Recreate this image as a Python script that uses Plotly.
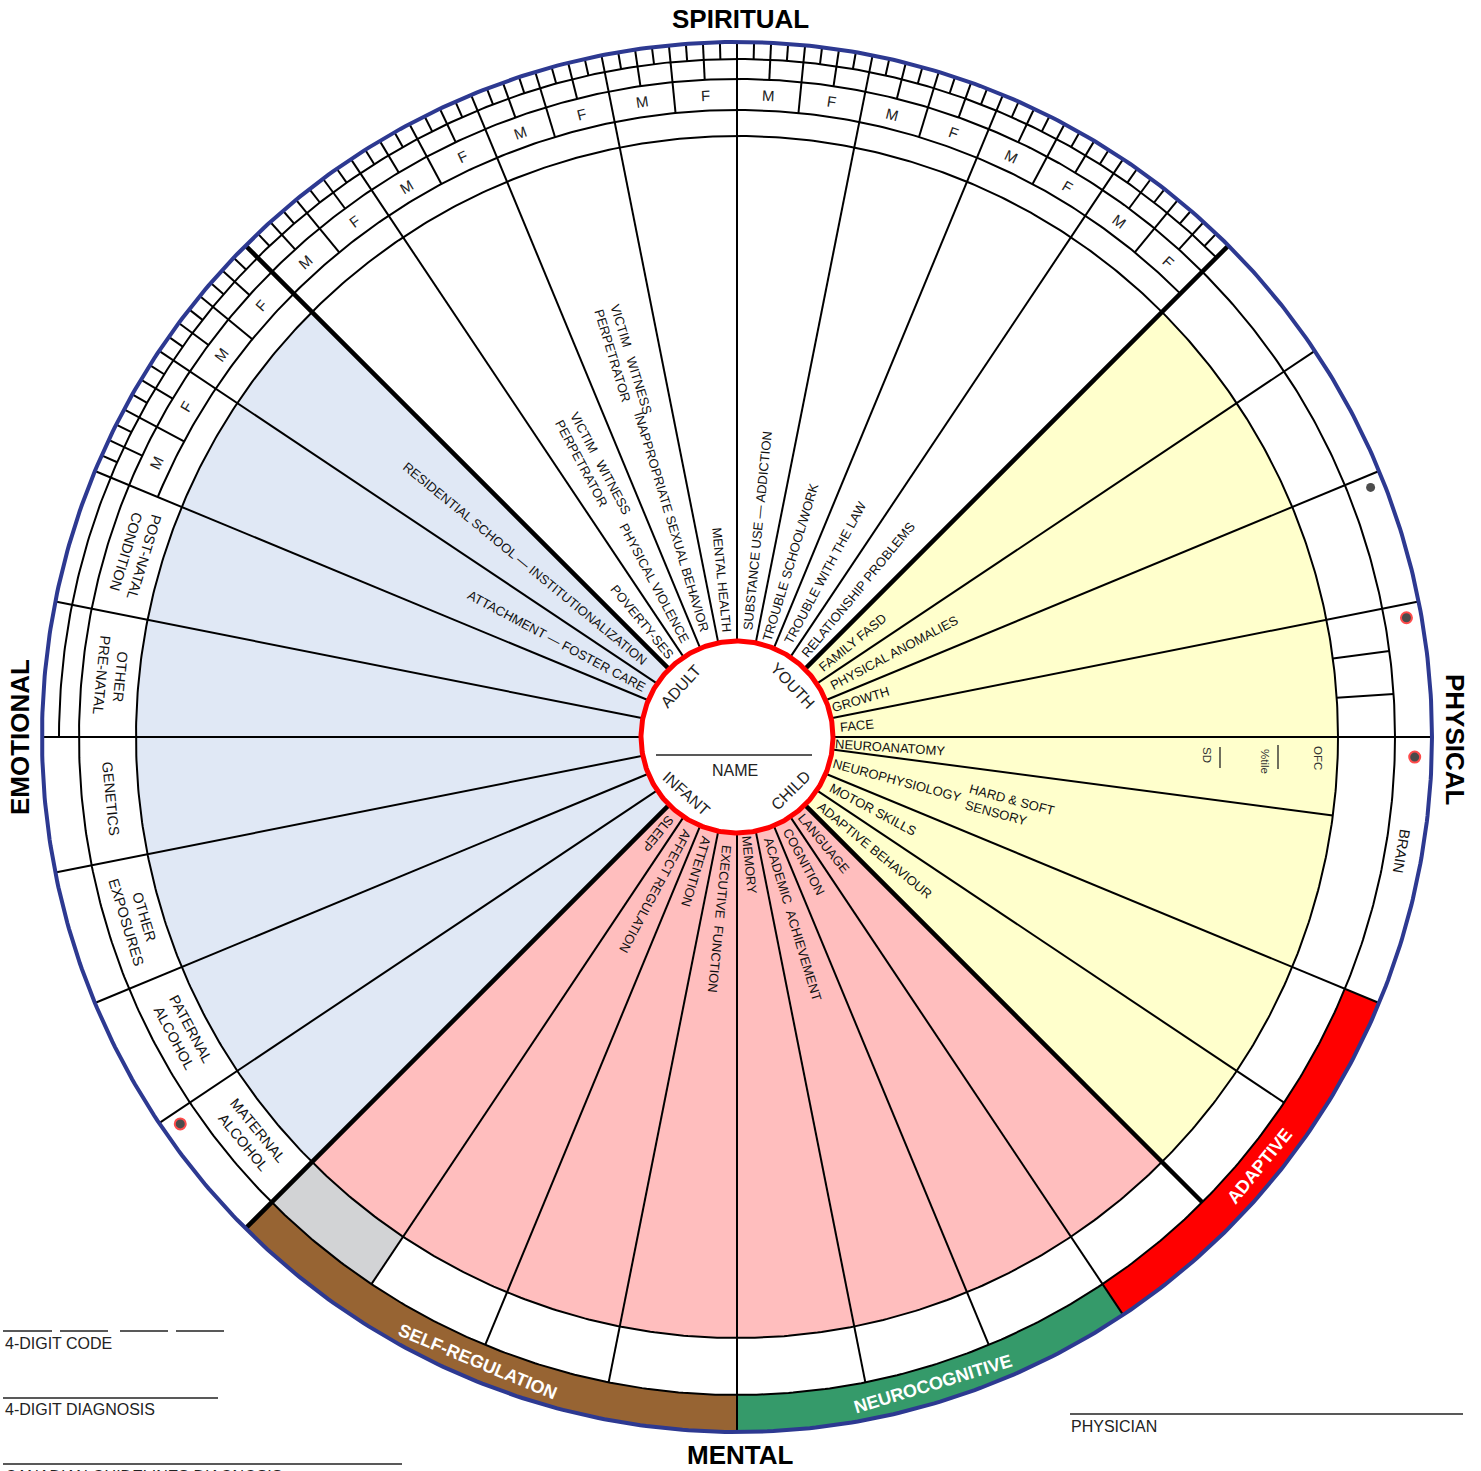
import numpy as np
import plotly.graph_objects as go

# ---------------- chart content (data) ----------------
quadrant_titles = ["SPIRITUAL", "PHYSICAL", "MENTAL", "EMOTIONAL"]
quadrant_title_angles = [90, 0, 270, 180]

inner_labels = [
    "RELATIONSHIP PROBLEMS", "TROUBLE WITH THE LAW", "TROUBLE SCHOOL/WORK",
    "SUBSTANCE USE — ADDICTION", "MENTAL HEALTH", "INAPPROPRIATE SEXUAL BEHAVIOR",
    "PHYSICAL VIOLENCE", "POVERTY-SES",
    "RESIDENTIAL SCHOOL — INSTITUTIONALIZATION", "ATTACHMENT — FOSTER CARE",
    "SLEEP", "AFFECT REGULATION", "ATTENTION", "EXECUTIVE\u00a0\u00a0FUNCTION",
    "MEMORY", "ACADEMIC\u00a0\u00a0ACHIEVEMENT", "COGNITION", "LANGUAGE",
    "ADAPTIVE BEHAVIOUR", "MOTOR SKILLS", "NEUROPHYSIOLOGY", "NEUROANATOMY",
    "FACE", "GROWTH", "PHYSICAL ANOMALIES", "FAMILY FASD",
]
inner_angles = [
    50.625, 61.875, 73.125, 84.375, 95.625, 106.875, 118.125, 129.375,
    140.625, 151.875,
    230.625, 241.875, 253.125, 264.375, 275.625, 286.875, 298.125, 309.375,
    320.625, 331.875, 345.0, 356.25,
    5.625, 16.875, 28.125, 39.375,
]
inner_reading = ["out"] * 4 + ["in"] * 6 + ["out"] * 16

role_labels = ["VICTIM\u00a0\u00a0\u00a0WITNESS<br>PERPETRATOR", "VICTIM\u00a0\u00a0\u00a0WITNESS<br>PERPETRATOR",
               "HARD & SOFT<br>SENSORY"]
role_angles = [106.875, 118.125, -14.6]

band_cell_labels = ["POST-NATAL<br>CONDITION", "OTHER<br>PRE-NATAL", "GENETICS",
                    "OTHER<br>EXPOSURES", "PATERNAL<br>ALCOHOL", "MATERNAL<br>ALCOHOL", "BRAIN"]
band_cell_angles = [163.125, 174.375, 185.625, 196.875, 208.125, 219.375, -9.75]

domain_labels = ["SELF-REGULATION", "NEUROCOGNITIVE", "ADAPTIVE"]
domain_start = [225.0, 270.0, 303.75]
domain_end = [270.0, 303.75, 337.5]

life_stages = ["ADULT", "YOUTH", "INFANT", "CHILD"]
life_stage_angles = [138, 43, 228, 315]

sex_labels = ["M", "F"]
ruler_start, ruler_end = 45.0, 157.5

spoke_angles = [45, 56.25, 67.5, 78.75, 90, 101.25, 112.5, 123.75, 135, 146.25, 157.5,
                168.75, 180, 191.25, 202.5, 213.75, 225, 236.25, 247.5, 258.75, 270,
                281.25, 292.5, 303.75, 315, 326.25, 337.5, 352.5, 0, 11.25, 22.5, 33.75]
spoke_reach = ["rim"] * 17 + ["band", "band", "band", "rim", "band", "band", "rim",
                              "band", "band", "rim", "wedge", "rim", "rim", "rim", "rim"]
thick_spokes = [45, 135, 225, 315]
face_cell_dividers = [3.75, 7.5]

ofc_labels = ["OFC", "%tile", "SD"]

dot_radius = [681, 680, 678, 678]
dot_angle = [21.5, 10.1, -1.7, 214.8]
dot_flagged = [False, True, True, True]

footer_fields = ["4-DIGIT CODE", "4-DIGIT DIAGNOSIS", "CANADIAN GUIDELINES DIAGNOSIS", "PHYSICIAN"]

# ---------------- geometry / style ----------------
W, H = 1481, 1471
CX, CY = 737.0, 737.0
R_HUB, R_WEDGE, R_MF, R_BAND, R_TICK, R_RIM = 96, 601, 627, 658, 678, 695

BLUE_FILL = "#E0E8F5"
PINK_FILL = "#FFBEBE"
YELLOW_FILL = "#FFFFCC"
GRAY_FILL = "#D2D3D5"
DOMAIN_COLORS = ["#976433", "#359A6A", "#FF0000"]
RIM_COLOR = "#2D3991"
NARROW = "Liberation Sans Narrow, Arial Narrow, Liberation Sans, Arial, sans-serif"
SANS = "Liberation Sans, Arial, Helvetica, sans-serif"
LABEL_SIZE = 13


def P(r, a):
    t = np.radians(a)
    return r * np.cos(t), r * np.sin(t)


def S(sx, sy):  # screen pixel -> plot coordinates
    return sx - CX, CY - sy


def annulus(r0, r1, a0, a1):
    n = int(abs(a1 - a0) / 0.4) + 2
    t = np.linspace(a0, a1, n)
    xo, yo = P(r1, t)
    xi, yi = P(r0, t[::-1])
    return np.r_[xo, xi, xo[:1]], np.r_[yo, yi, yo[:1]]


def norm(a):
    return (a + 180) % 360 - 180


fig = go.Figure()


def add_fill(x, y, color):
    fig.add_trace(go.Scatter(x=x, y=y, mode="lines", fill="toself", fillcolor=color,
                             line=dict(width=0, color=color), hoverinfo="skip"))


# wedge fills
add_fill(*annulus(R_HUB, R_WEDGE, 135, 225), BLUE_FILL)
add_fill(*annulus(R_HUB, R_WEDGE, 225, 315), PINK_FILL)
add_fill(*annulus(R_HUB, R_WEDGE, -45, 45), YELLOW_FILL)
add_fill(*annulus(R_WEDGE, R_BAND, 225, 236.25), GRAY_FILL)
for a0, a1, c in zip(domain_start, domain_end, DOMAIN_COLORS):
    add_fill(*annulus(R_BAND, R_RIM, a0, a1), c)

# thin line work
lx, ly = [], []


def seg(r0, r1, a):
    x0, y0 = P(r0, a)
    x1, y1 = P(r1, a)
    lx.extend([x0, x1, None])
    ly.extend([y0, y1, None])


def arc(r, a0, a1):
    n = int(abs(a1 - a0) / 0.4) + 2
    xs, ys = P(r, np.linspace(a0, a1, n))
    lx.extend(list(xs) + [None])
    ly.extend(list(ys) + [None])


reach = {"rim": R_RIM, "band": R_BAND, "wedge": R_WEDGE}
for a, rr in zip(spoke_angles, spoke_reach):
    if a not in thick_spokes:
        seg(R_HUB, reach[rr], a)
for a in face_cell_dividers:
    seg(R_WEDGE, R_BAND, a)
arc(R_WEDGE, 0, 360)
arc(R_BAND, 0, 360)
arc(R_MF, ruler_start, ruler_end)
arc(R_TICK, ruler_start, 180)

sector = 11.25
n_ruler = int(round((ruler_end - ruler_start) / sector))
for k in range(n_ruler):
    lo = ruler_start + k * sector
    seg(R_MF, R_RIM, lo + sector / 2)
    for q in (1, 3):
        seg(R_BAND, R_RIM, lo + q * sector / 4)
    for e in (1, 3, 5, 7):
        seg(R_TICK, R_RIM, lo + e * sector / 8)

fig.add_trace(go.Scatter(x=lx, y=ly, mode="lines", line=dict(color="black", width=2),
                         hoverinfo="skip"))

# thick diagonals
tx, ty = [], []
for a in thick_spokes:
    rr = reach[spoke_reach[spoke_angles.index(a)]]
    x0, y0 = P(R_HUB, a)
    x1, y1 = P(rr, a)
    tx.extend([x0, x1, None])
    ty.extend([y0, y1, None])
fig.add_trace(go.Scatter(x=tx, y=ty, mode="lines", line=dict(color="black", width=4.5),
                         hoverinfo="skip"))

# outer rim
rx, ry = P(R_RIM, np.linspace(0, 360, 721))
fig.add_trace(go.Scatter(x=rx, y=ry, mode="lines", line=dict(color=RIM_COLOR, width=4),
                         hoverinfo="skip"))

# hub
hx, hy = P(R_HUB, np.linspace(0, 360, 361))
fig.add_trace(go.Scatter(x=hx, y=hy, mode="lines", fill="toself", fillcolor="white",
                         line=dict(color="#FF0000", width=5), hoverinfo="skip"))
nx0, ny0 = S(656, 755)
nx1, ny1 = S(812, 755)
fig.add_trace(go.Scatter(x=[nx0, nx1], y=[ny0, ny1], mode="lines",
                         line=dict(color="#222", width=1.5), hoverinfo="skip"))

# dots
dx, dy = P(np.array(dot_radius, float), np.array(dot_angle, float))
fig.add_trace(go.Scatter(
    x=dx, y=dy, mode="markers", hoverinfo="skip",
    marker=dict(size=[9 if not f else 11 for f in dot_flagged], color="black",
                line=dict(color=["black" if not f else "#FF0000" for f in dot_flagged],
                          width=[0 if not f else 2 for f in dot_flagged]))))

# footer / form lines
fx, fy = [], []
form_lines = [(3, 52, 1331), (60, 108, 1331), (120, 168, 1331), (176, 224, 1331),
              (3, 218, 1398), (3, 402, 1464), (1070, 1463, 1414)]
for xa, xb, yy in form_lines:
    a = S(xa, yy)
    b = S(xb, yy)
    fx.extend([a[0], b[0], None])
    fy.extend([a[1], b[1], None])
for xx, ya, yb in [(1278, 745, 769), (1220, 747, 768)]:
    a = S(xx, ya)
    b = S(xx, yb)
    fx.extend([a[0], b[0], None])
    fy.extend([a[1], b[1], None])
fig.add_trace(go.Scatter(x=fx, y=fy, mode="lines", line=dict(color="#222", width=1.3),
                         hoverinfo="skip"))

# ---------------- text ----------------
ann = []


def text(x, y, t, size, family=NARROW, angle=0, color="#111", bold=False,
         xanchor="center", align="center", paper=False):
    d = dict(x=x, y=y, text=("<b>%s</b>" % t) if bold else t, showarrow=False,
             textangle=angle, xanchor=xanchor, yanchor="middle", align=align,
             font=dict(size=size, family=family, color=color))
    if paper:
        d.update(xref="paper", yref="paper")
    ann.append(d)


R_TXT0, CHAR_W = 104, 8.3
for t, a, rd in zip(inner_labels, inner_angles, inner_reading):
    rc = R_TXT0 + 0.5 * len(t) * CHAR_W
    x, y = P(rc, a)
    ang = norm(-a) if rd == "out" else norm(180 - a)
    text(x, y, t, LABEL_SIZE, angle=ang)

for t, a, rc in zip(role_labels, role_angles, [392, 306, 282]):
    x, y = P(rc, a)
    ang = norm(180 - a) if a > 90 else 15
    text(x, y, t, LABEL_SIZE, angle=ang, align="left")

for t, a in zip(band_cell_labels, band_cell_angles):
    rc = 629 if a > 90 else 674
    x, y = P(rc, a)
    ang = norm(270 - a) if a > 90 else norm(90 - a)
    text(x, y, t, 14.5, angle=ang)

for k in range(n_ruler):
    lo = ruler_start + k * sector
    for s, a in zip(sex_labels, [lo + sector - sector / 4, lo + sector / 4]):
        x, y = P(642, a)
        text(x, y, s, 15, family=SANS, angle=norm(90 - a), color="#222")

for t, a0, a1 in zip(domain_labels, domain_start, domain_end):
    a = (a0 + a1) / 2
    x, y = P(676, a)
    text(x, y, t, 18, family=SANS, angle=norm(270 - a), color="white", bold=True)

for t, a in zip(life_stages, life_stage_angles):
    x, y = P(76, a)
    ang = norm(90 - a) if 0 < a < 180 else norm(270 - a)
    text(x, y, t, 16, family=SANS, angle=ang, color="#222")
text(*S(735, 770), "NAME", 16, family=SANS, color="#222")

for t, a in zip(quadrant_titles, quadrant_title_angles):
    if a == 90:
        text(*S(740, 19), t, 26, family=SANS, bold=True, color="black")
    elif a == 270:
        text(*S(740, 1455), t, 26, family=SANS, bold=True, color="black")
    elif a == 0:
        text(*S(1455, 740), t, 26, family=SANS, bold=True, angle=90, color="black")
    else:
        text(*S(20, 737), t, 26, family=SANS, bold=True, angle=-90, color="black")

for t, (sx, sy) in zip(ofc_labels, [(1318, 758), (1265, 761), (1207, 755)]):
    text(*S(sx, sy), t, 11.5, family=SANS, angle=90, color="#333")

for t, (sx, sy) in zip(footer_fields, [(3, 1343), (3, 1409), (3, 1476), (1069, 1426)]):
    text(sx / W, (H - sy) / H, t, 16, family=SANS, color="#222", xanchor="left", paper=True)

fig.update_layout(
    width=W, height=H, margin=dict(l=0, r=0, t=0, b=0),
    paper_bgcolor="white", plot_bgcolor="white", showlegend=False,
    xaxis=dict(range=[-CX, W - CX], visible=False, fixedrange=True),
    yaxis=dict(range=[CY - H, CY], visible=False, fixedrange=True),
    annotations=ann,
)

fig.write_html("out.html", config={"displayModeBar": False},
               post_script="document.body.style.margin='0';document.body.style.overflow='hidden';")
